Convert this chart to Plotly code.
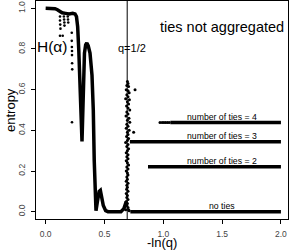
import numpy as np
import plotly.graph_objects as go

# ---------------- data ----------------
main_x = [0.00, 0.04, 0.08, 0.10, 0.12, 0.14, 0.17, 0.20, 0.23, 0.25, 0.262, 0.272, 0.282,
          0.292, 0.302, 0.309, 0.314, 0.32, 0.33, 0.34, 0.35, 0.362, 0.377, 0.394, 0.405,
          0.413, 0.42, 0.428, 0.44, 0.455, 0.465, 0.475, 0.49, 0.51, 0.53, 0.64, 0.665, 0.685]
main_y = [1.00, 1.00, 0.998, 0.993, 0.985, 0.978, 0.975, 0.972, 0.975, 0.972, 0.96, 0.91, 0.79,
          0.62, 0.45, 0.345, 0.45, 0.65, 0.78, 0.82, 0.83, 0.815, 0.78, 0.67, 0.50,
          0.25, 0.06, 0.005, 0.05, 0.10, 0.105, 0.08, 0.03, 0.005, 0.0, 0.0, 0.015, 0.05]

dip_x = [0.122, 0.122, 0.124, 0.126, 0.122, 0.145, 0.155, 0.157, 0.159, 0.16, 0.188, 0.19,
         0.192, 0.222, 0.222, 0.223, 0.224, 0.224, 0.225, 0.226, 0.224]
dip_y = [0.96, 0.94, 0.92, 0.90, 0.865, 0.865, 0.96, 0.945, 0.93, 0.915, 0.96, 0.945,
         0.93, 0.88, 0.84, 0.81, 0.79, 0.77, 0.73, 0.70, 0.44]

cloud_x = [0.695, 0.70, 0.69, 0.705, 0.685, 0.70, 0.71, 0.69, 0.70, 0.68, 0.712, 0.695, 0.705,
           0.688, 0.70, 0.715, 0.69, 0.70, 0.683, 0.708, 0.695, 0.715, 0.69, 0.70, 0.685,
           0.71, 0.695, 0.70, 0.688, 0.705, 0.695, 0.68, 0.70, 0.69, 0.705, 0.695, 0.685,
           0.70, 0.69, 0.70, 0.685, 0.695, 0.705, 0.69, 0.70, 0.685, 0.695, 0.70, 0.69,
           0.695, 0.685, 0.70, 0.69, 0.695, 0.688, 0.70, 0.685, 0.695, 0.69, 0.70, 0.685,
           0.695, 0.69, 0.70, 0.705, 0.68, 0.71, 0.76, 0.748]
cloud_y = [0.64, 0.63, 0.62, 0.615, 0.60, 0.595, 0.585, 0.575, 0.565, 0.555, 0.55, 0.54, 0.53,
           0.52, 0.51, 0.50, 0.49, 0.48, 0.47, 0.46, 0.45, 0.44, 0.43, 0.42, 0.41,
           0.40, 0.39, 0.38, 0.37, 0.36, 0.35, 0.34, 0.33, 0.32, 0.31, 0.30, 0.29,
           0.28, 0.27, 0.26, 0.25, 0.24, 0.23, 0.22, 0.21, 0.20, 0.19, 0.18, 0.17,
           0.16, 0.15, 0.14, 0.13, 0.12, 0.11, 0.10, 0.09, 0.08, 0.07, 0.06, 0.05,
           0.04, 0.03, 0.02, 0.01, 0.01, 0.005, 0.60, 0.39]

ties_labels = ["no ties", "number of ties = 2", "number of ties = 3", "number of ties = 4"]
ties_level = [0.0, 0.221, 0.344, 0.438]
ties_start = [0.72, 0.87, 0.716, 1.06]
ties_end = [2.0, 2.0, 2.0, 2.0]
ties4_dots_x = [0.972, 0.99, 1.005, 1.02, 1.035, 1.05]
ties4_dots_y = [0.438, 0.438, 0.438, 0.438, 0.438, 0.438]

q_half = 0.5
x_ticks = [0.0, 0.5, 1.0, 1.5, 2.0]
y_ticks = [0.0, 0.2, 0.4, 0.6, 0.8, 1.0]

FONT = "Liberation Sans, Arial, sans-serif"

fig = go.Figure()
fig.add_trace(go.Scatter(x=main_x, y=main_y, mode="lines",
                         line=dict(color="black", width=3.5), hoverinfo="skip"))
fig.add_trace(go.Scatter(x=dip_x, y=dip_y, mode="markers",
                         marker=dict(color="black", size=2.6), hoverinfo="skip"))
fig.add_trace(go.Scatter(x=cloud_x, y=cloud_y, mode="markers",
                         marker=dict(color="black", size=3), hoverinfo="skip"))
for lab, lv, xs, xe in zip(ties_labels, ties_level, ties_start, ties_end):
    fig.add_trace(go.Scatter(x=[xs, xe], y=[lv, lv], mode="lines",
                             line=dict(color="black", width=3.5), hoverinfo="skip"))
fig.add_trace(go.Scatter(x=ties4_dots_x, y=ties4_dots_y, mode="markers",
                         marker=dict(color="black", size=3), hoverinfo="skip"))

# vertical line at q = 1/2
fig.add_shape(type="line", x0=-np.log(q_half), x1=-np.log(q_half), y0=0, y1=1,
              xref="x", yref="paper", line=dict(color="black", width=1))

# tie labels
label_y = [0.028, 0.249, 0.374, 0.466]
for lab, ly in zip(ties_labels, label_y):
    fig.add_annotation(x=1.5, y=ly, text=lab, showarrow=False,
                       font=dict(family=FONT, size=8.7, color="black"))

fig.add_annotation(x=1.5, y=0.908, text="ties not aggregated", showarrow=False,
                   font=dict(family=FONT, size=14.5, color="black"))
fig.add_annotation(x=0.054, y=0.81, text="H(α)", showarrow=False,
                   font=dict(family=FONT, size=15.5, color="black"))
fig.add_annotation(x=0.735, y=0.805, text="q=1/2", showarrow=False,
                   font=dict(family=FONT, size=11, color="black"))

# axis titles
fig.add_annotation(xref="paper", yref="paper", x=0, y=0.5, xshift=-26, text="entropy",
                   textangle=-90, showarrow=False, xanchor="center", yanchor="middle",
                   font=dict(family=FONT, size=13, color="black"))
fig.add_annotation(xref="paper", yref="paper", x=0.5, y=0, yshift=-23, text="-ln(q)",
                   showarrow=False, xanchor="center", yanchor="middle",
                   font=dict(family=FONT, size=13, color="black"))

axis_common = dict(showgrid=False, zeroline=False, showline=True, linecolor="black",
                   linewidth=1, mirror=True, ticks="outside", ticklen=4, tickwidth=1,
                   tickcolor="black", tickfont=dict(family=FONT, size=8.5, color="#444"))
fig.update_xaxes(range=[-0.082, 2.06], tickvals=x_ticks,
                 ticktext=[f"{v:.1f}" for v in x_ticks], ticklabelstandoff=3, **axis_common)
fig.update_yaxes(range=[-0.036, 1.036], tickvals=y_ticks,
                 ticktext=[f"{v:.1f}" for v in y_ticks], tickangle=-90,
                 ticklabelstandoff=3, **axis_common)

fig.update_layout(width=291, height=251, margin=dict(l=36, r=3, t=1, b=32),
                  paper_bgcolor="white", plot_bgcolor="white", showlegend=False)

fig.write_html("out.html", config={"displayModeBar": False},
               post_script="document.body.style.margin='0px';")
